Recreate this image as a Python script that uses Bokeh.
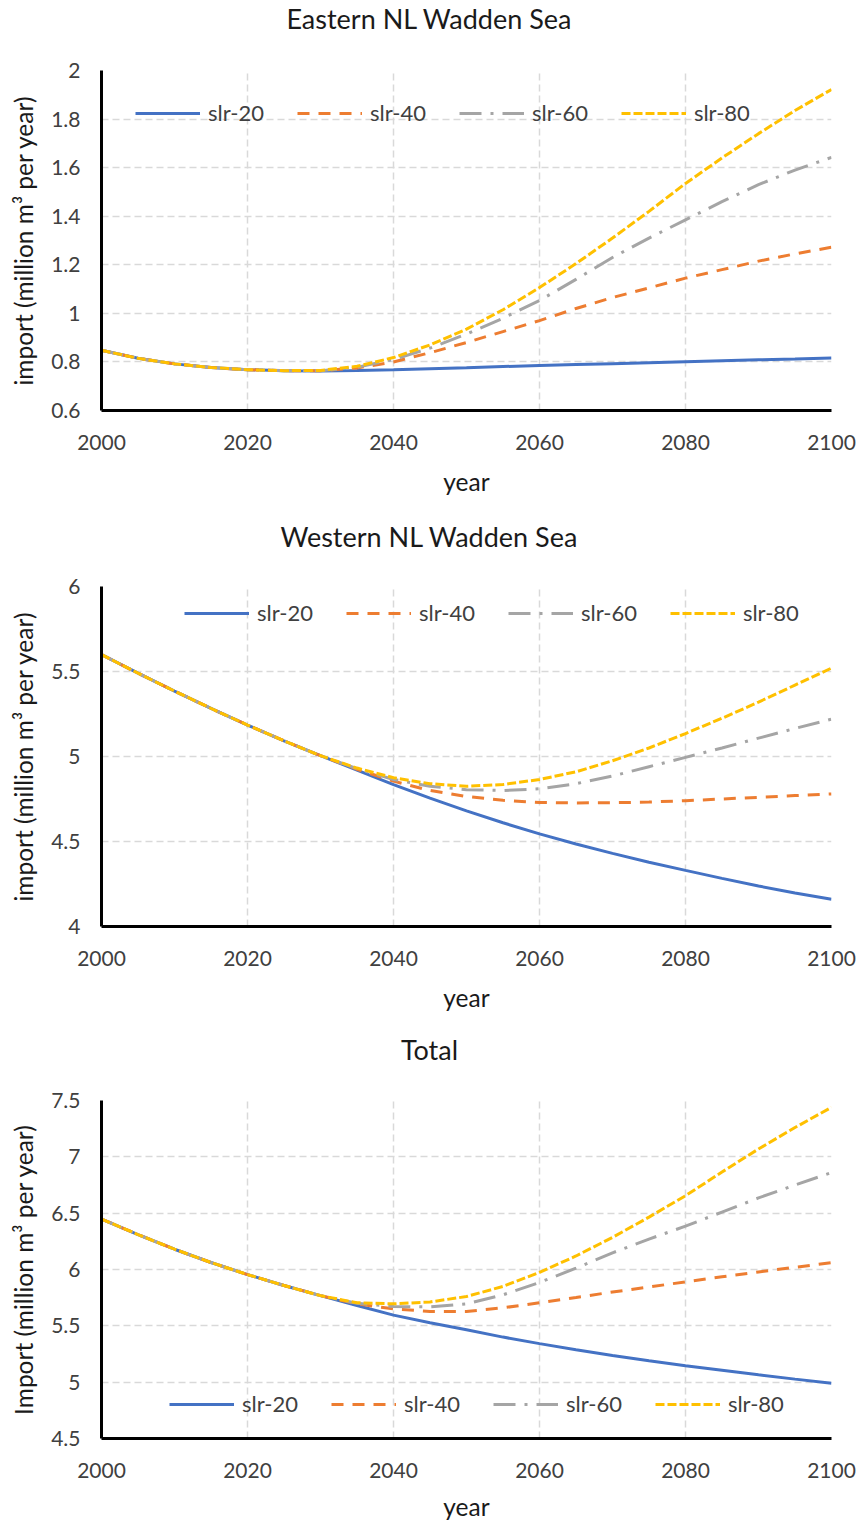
from bokeh.plotting import figure
from bokeh.models import (Range1d, FixedTicker, CustomJSTickFormatter, Legend,
                          LegendItem, Label)
from bokeh.layouts import column
from bokeh.embed import file_html
from bokeh.resources import INLINE

# ---------------- data ----------------
years = [2000, 2005, 2010, 2015, 2020, 2025, 2030, 2035, 2040, 2045, 2050,
         2055, 2060, 2065, 2070, 2075, 2080, 2085, 2090, 2095, 2100]

series_names = ["slr-20", "slr-40", "slr-60", "slr-80"]

east_slr20 = [0.848, 0.815, 0.792, 0.777, 0.768, 0.764, 0.763, 0.765, 0.768, 0.772, 0.776,
              0.781, 0.785, 0.789, 0.793, 0.797, 0.801, 0.805, 0.809, 0.812, 0.816]
east_slr40 = [0.848, 0.815, 0.792, 0.777, 0.768, 0.764, 0.764, 0.775, 0.800, 0.838, 0.880,
              0.925, 0.970, 1.020, 1.065, 1.105, 1.145, 1.180, 1.215, 1.245, 1.272]
east_slr60 = [0.848, 0.815, 0.792, 0.777, 0.768, 0.764, 0.764, 0.778, 0.810, 0.857, 0.915,
              0.980, 1.053, 1.140, 1.230, 1.310, 1.385, 1.460, 1.530, 1.590, 1.642]
east_slr80 = [0.848, 0.815, 0.792, 0.777, 0.768, 0.764, 0.765, 0.782, 0.818, 0.870, 0.935,
              1.015, 1.106, 1.205, 1.310, 1.420, 1.535, 1.640, 1.740, 1.835, 1.922]

west_slr20 = [5.600, 5.490, 5.385, 5.283, 5.185, 5.092, 5.005, 4.920, 4.835, 4.755, 4.680,
              4.610, 4.545, 4.485, 4.430, 4.378, 4.330, 4.283, 4.238, 4.197, 4.160]
west_slr40 = [5.600, 5.490, 5.385, 5.283, 5.185, 5.092, 5.005, 4.925, 4.855, 4.800, 4.765,
              4.742, 4.730, 4.727, 4.728, 4.732, 4.740, 4.750, 4.760, 4.770, 4.780]
west_slr60 = [5.600, 5.490, 5.385, 5.283, 5.185, 5.092, 5.005, 4.928, 4.865, 4.825, 4.805,
              4.800, 4.810, 4.840, 4.885, 4.940, 4.995, 5.050, 5.108, 5.165, 5.220]
west_slr80 = [5.600, 5.490, 5.385, 5.283, 5.185, 5.092, 5.005, 4.932, 4.875, 4.840, 4.825,
              4.835, 4.865, 4.910, 4.975, 5.050, 5.135, 5.225, 5.320, 5.420, 5.520]

total_slr20 = [6.448, 6.310, 6.180, 6.062, 5.955, 5.858, 5.768, 5.680, 5.595, 5.528, 5.465,
               5.400, 5.342, 5.287, 5.237, 5.190, 5.145, 5.105, 5.065, 5.027, 4.990]
total_slr40 = [6.448, 6.310, 6.180, 6.062, 5.955, 5.858, 5.768, 5.695, 5.650, 5.628, 5.628,
               5.660, 5.705, 5.752, 5.800, 5.845, 5.890, 5.935, 5.978, 6.020, 6.060]
total_slr60 = [6.448, 6.310, 6.180, 6.062, 5.955, 5.858, 5.768, 5.700, 5.672, 5.668, 5.695,
               5.775, 5.885, 6.012, 6.148, 6.270, 6.385, 6.510, 6.635, 6.750, 6.860]
total_slr80 = [6.448, 6.310, 6.180, 6.062, 5.955, 5.858, 5.768, 5.705, 5.695, 5.712, 5.760,
               5.850, 5.975, 6.120, 6.285, 6.465, 6.655, 6.865, 7.070, 7.260, 7.440]

x_ticks = [2000, 2020, 2040, 2060, 2080, 2100]
east_y_ticks = [0.6, 0.8, 1.0, 1.2, 1.4, 1.6, 1.8, 2.0]
west_y_ticks = [4.0, 4.5, 5.0, 5.5, 6.0]
total_y_ticks = [4.5, 5.0, 5.5, 6.0, 6.5, 7.0, 7.5]

titles = ["Eastern NL Wadden Sea", "Western NL Wadden Sea", "Total"]
y_labels = ["import (million m\u00b3 per year)", "import (million m\u00b3 per year)",
            "Import (million m\u00b3 per year)"]
x_label = "year"

# ---------------- style ----------------
FONT = "Lato"
colors = ["#4472C4", "#ED7D31", "#A5A5A5", "#FFC000"]
dashes = ["solid", "12 9", "22 9 3 9", "9 3"]
TXT = "#404040"
DARK = "#1a1a1a"
W = 861
FRAME_H = 340


def make_title(text, height, y_center_from_bottom):
    t = figure(width=W, height=height, x_range=Range1d(0, W), y_range=Range1d(0, height),
               output_backend="svg", toolbar_location=None, min_border=0,
               x_axis_type=None, y_axis_type=None)
    t.outline_line_color = None
    t.xgrid.visible = False
    t.ygrid.visible = False
    t.add_layout(Label(x=328, y=y_center_from_bottom, x_units="screen", y_units="screen",
                       text=text, text_align="center", text_baseline="middle",
                       text_font=FONT, text_font_size="27px", text_color=DARK))
    return t


def make_panel(ylabel, y_ticks, data, legend_xy, top, bottom, year_standoff):
    p = figure(width=W, height=top + FRAME_H + bottom,
               x_range=Range1d(x_ticks[0], x_ticks[-1]),
               y_range=Range1d(y_ticks[0], y_ticks[-1]),
               output_backend="svg", toolbar_location=None,
               min_border_left=101, min_border_right=30,
               min_border_top=top, min_border_bottom=bottom)
    p.outline_line_color = None
    p.background_fill_color = "white"
    p.border_fill_color = "white"

    for ax in (p.xaxis[0], p.yaxis[0]):
        ax.axis_line_color = "black"
        ax.axis_line_width = 3
        ax.major_tick_line_color = None
        ax.minor_tick_line_color = None
        ax.major_tick_out = 0
        ax.major_tick_in = 0
        ax.minor_tick_out = 0
        ax.minor_tick_in = 0
        ax.major_label_text_font = FONT
        ax.major_label_text_font_size = "21px"
        ax.major_label_text_color = TXT
        ax.axis_label_text_font = FONT
        ax.axis_label_text_font_size = "24.5px"
        ax.axis_label_text_font_style = "normal"
        ax.axis_label_text_color = DARK

    p.xaxis.ticker = FixedTicker(ticks=x_ticks)
    p.yaxis.ticker = FixedTicker(ticks=y_ticks)
    p.yaxis.formatter = CustomJSTickFormatter(code="return String(Math.round(tick*10)/10);")
    p.xaxis.major_label_standoff = 24
    p.yaxis.major_label_standoff = 21
    p.xaxis.axis_label = x_label
    p.yaxis.axis_label = ylabel
    p.xaxis.axis_label_standoff = year_standoff
    p.yaxis.axis_label_standoff = 10

    p.xgrid.ticker = FixedTicker(ticks=x_ticks)
    p.ygrid.ticker = FixedTicker(ticks=y_ticks)
    for g in (p.xgrid[0], p.ygrid[0]):
        g.grid_line_color = "#D9D9D9"
        g.grid_line_width = 1.5
        g.grid_line_dash = "7 4"

    items = []
    for name, vals, col, dash in zip(series_names, data, colors, dashes):
        r = p.line(years, vals, line_color=col, line_width=3, line_dash=dash)
        items.append(LegendItem(label=name, renderers=[r]))

    legend = Legend(items=items, orientation="horizontal", location=legend_xy,
                    glyph_width=65, glyph_height=26, label_height=26,
                    label_standoff=8, spacing=33, padding=0, margin=0,
                    border_line_color=None, background_fill_alpha=0,
                    label_text_font=FONT, label_text_font_size="22px",
                    label_text_color=TXT)
    p.add_layout(legend)
    return p


t1 = make_title(titles[0], 45, 27)
p1 = make_panel(y_labels[0], east_y_ticks,
                [east_slr20, east_slr40, east_slr60, east_slr80],
                (34, 284), 25, 95, 14)
t2 = make_title(titles[1], 55, 24)
p2 = make_panel(y_labels[1], west_y_ticks,
                [west_slr20, west_slr40, west_slr60, west_slr80],
                (83, 300), 26, 94, 14)
t3 = make_title(titles[2], 50, 21)
p3 = make_panel(y_labels[2], total_y_ticks,
                [total_slr20, total_slr40, total_slr60, total_slr80],
                (68, 21), 30, 83, 11)

layout = column(t1, p1, t2, p2, t3, p3, spacing=0)

open("out.html", "w").write(file_html(layout, INLINE))
